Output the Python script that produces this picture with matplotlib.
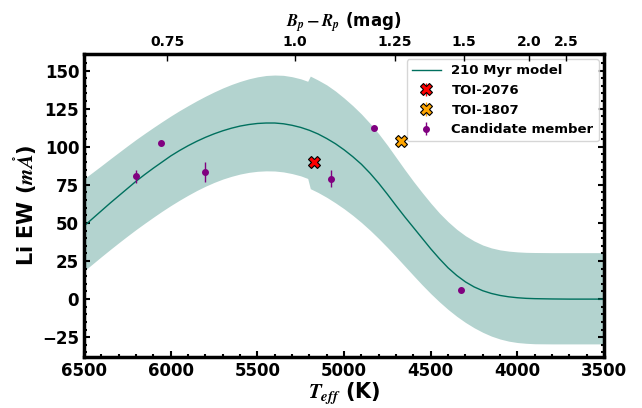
import numpy as np
import matplotlib
matplotlib.use("Agg")
import matplotlib.pyplot as plt
from matplotlib.ticker import MultipleLocator

plt.rcParams['font.family'] = 'DejaVu Sans'
plt.rcParams['font.weight'] = 'bold'
plt.rcParams['mathtext.fontset'] = 'stix'

# modelo de 210 Myr (passo de 50 K)
teff_model = [6500, 6450, 6400, 6350, 6300, 6250, 6200, 6150, 6100, 6050,
              6000, 5950, 5900, 5850, 5800, 5750, 5700, 5650, 5600, 5550,
              5500, 5450, 5400, 5350, 5300, 5250, 5200, 5150, 5100, 5050,
              5000, 4950, 4900, 4850, 4800, 4750, 4700, 4650, 4600, 4550,
              4500, 4450, 4400, 4350, 4300, 4250, 4200, 4150, 4100, 4050,
              4000, 3950, 3900, 3800, 3700, 3600, 3500]
ew_model = [48, 53, 58, 63, 67.8, 72.6, 77.4, 81.8, 86, 90,
            94, 97.5, 100.7, 103.6, 106.2, 108.5, 110.5, 112.2, 113.6, 114.6,
            115.3, 115.6, 115.6, 115.1, 114.1, 112.7, 110.8, 108.4, 105.4, 102,
            98, 93.5, 88.5, 82.6, 76, 68.8, 61.3, 54, 47, 40,
            33, 26.5, 20.5, 15.5, 11.3, 8, 5.5, 3.7, 2.4, 1.5,
            0.9, 0.5, 0.3, 0.1, 0, 0, 0]

# faixa de dispersao (tem um salto perto de 5200 K)
teff_band = [6500, 6450, 6400, 6350, 6300, 6250, 6200, 6150, 6100, 6050,
             6000, 5950, 5900, 5850, 5800, 5750, 5700, 5650, 5600, 5550,
             5500, 5450, 5400, 5350, 5300, 5250, 5210, 5195, 5150, 5100, 5050,
             5000, 4950, 4900, 4850, 4800, 4750, 4700, 4650, 4600, 4550,
             4500, 4450, 4400, 4350, 4300, 4250, 4200, 4150, 4100, 4050,
             4000, 3950, 3900, 3800, 3700, 3600, 3500]
ew_upper = [79, 83.3, 87.6, 92, 96.3, 100.6, 104.8, 108.8, 112.7, 116.5,
            120.2, 123.7, 127, 130.2, 133.2, 136, 138.6, 140.9, 142.9, 144.6,
            145.9, 146.8, 147.1, 146.9, 146, 144.6, 143, 146.4, 143.8, 140.6, 136.6,
            132, 127, 121.5, 115.3, 108.5, 101, 93, 85, 77.3, 70,
            63, 56.5, 50.8, 45.8, 41.6, 38.2, 35.5, 33.6, 32.3, 31.5,
            31, 30.7, 30.6, 30.5, 30.5, 30.5, 30.5]
ew_lower = [18.5, 23.2, 27.9, 32.5, 37, 41.4, 45.7, 49.8, 53.8, 57.7,
            61.4, 64.9, 68.2, 71.3, 74.1, 76.6, 78.8, 80.6, 82.1, 83.2,
            83.9, 84.2, 84.1, 83.5, 82.4, 80.9, 79.2, 72.5, 70, 66.8, 63.2,
            59.3, 55, 50.3, 45.2, 39.7, 33.9, 27.9, 21.7, 15.5, 9.4,
            3.6, -1.8, -6.8, -11.3, -15.3, -18.8, -21.8, -24.3, -26.2, -27.6,
            -28.5, -29, -29.3, -29.4, -29.4, -29.4, -29.4]

# membros candidatos
teff_cand = [6200, 6055, 5800, 5075, 4830, 4325]
ew_cand = [80.5, 102.5, 83.5, 79, 112, 6]
err_cand = [4.5, 0, 6.5, 5.5, 0, 0]

# TOIs
teff_2076, ew_2076 = 5175, 90
teff_1807, ew_1807 = 4670, 104

# eixo de cima: Bp-Rp
bprp_labels = ['0.75', '1.0', '1.25', '1.5', '2.0', '2.5']
bprp_teff = [6019, 5283, 4706, 4311, 3933, 3719]

fig = plt.figure(figsize=(6.42, 4.08), dpi=100)
ax = fig.add_axes([0.131, 0.125, 0.810, 0.743])

ax.fill_between(teff_band, ew_lower, ew_upper, color='#b3d3cf', lw=0)
ax.plot(teff_model, ew_model, color='#00705e', lw=1, label='210 Myr model')

ax.errorbar(teff_2076, ew_2076, yerr=0, fmt='X', color='red', mec='black',
            mew=0.8, ms=8, ecolor='red', elinewidth=1, label='TOI-2076', zorder=5)
ax.errorbar(teff_1807, ew_1807, yerr=0, fmt='X', color='orange', mec='black',
            mew=0.8, ms=8, ecolor='orange', elinewidth=1, label='TOI-1807', zorder=5)
ax.errorbar(teff_cand, ew_cand, yerr=err_cand, fmt='o', color='purple', ms=4,
            elinewidth=1, label='Candidate member', zorder=4)

ax.set_xlim(6500, 3500)
ax.set_ylim(-38, 161)
ax.xaxis.set_major_locator(MultipleLocator(500))
ax.xaxis.set_minor_locator(MultipleLocator(100))
ax.yaxis.set_major_locator(MultipleLocator(25))
ax.yaxis.set_minor_locator(MultipleLocator(5))
ax.tick_params(which='both', direction='in', labelsize=12, width=1.5,
               top=False, right=True)
ax.tick_params(which='major', length=4)
ax.tick_params(which='minor', length=2.5)
for lab in ax.get_xticklabels() + ax.get_yticklabels():
    lab.set_fontweight('bold')
for s in ax.spines.values():
    s.set_linewidth(2.5)

ax.set_xlabel(r'$T_{eff}$ (K)', fontsize=15, fontweight='bold', labelpad=1)
ax.set_ylabel(r'Li EW ($m\mathring{A}$)', fontsize=15, fontweight='bold', labelpad=2)

ax2 = ax.twiny()
ax2.set_xlim(ax.get_xlim())
ax2.set_xticks(bprp_teff)
ax2.set_xticklabels(bprp_labels, fontsize=10, fontweight='bold')
ax2.tick_params(direction='in', length=5, width=1)
ax2.set_xlabel(r'$B_p-R_p$ (mag)', fontsize=12, fontweight='bold', labelpad=6)

leg = ax.legend(loc='upper right', prop={'weight': 'bold', 'size': 9.5},
                handlelength=2.2, borderaxespad=0.4)

plt.savefig('out.png', dpi=100)
